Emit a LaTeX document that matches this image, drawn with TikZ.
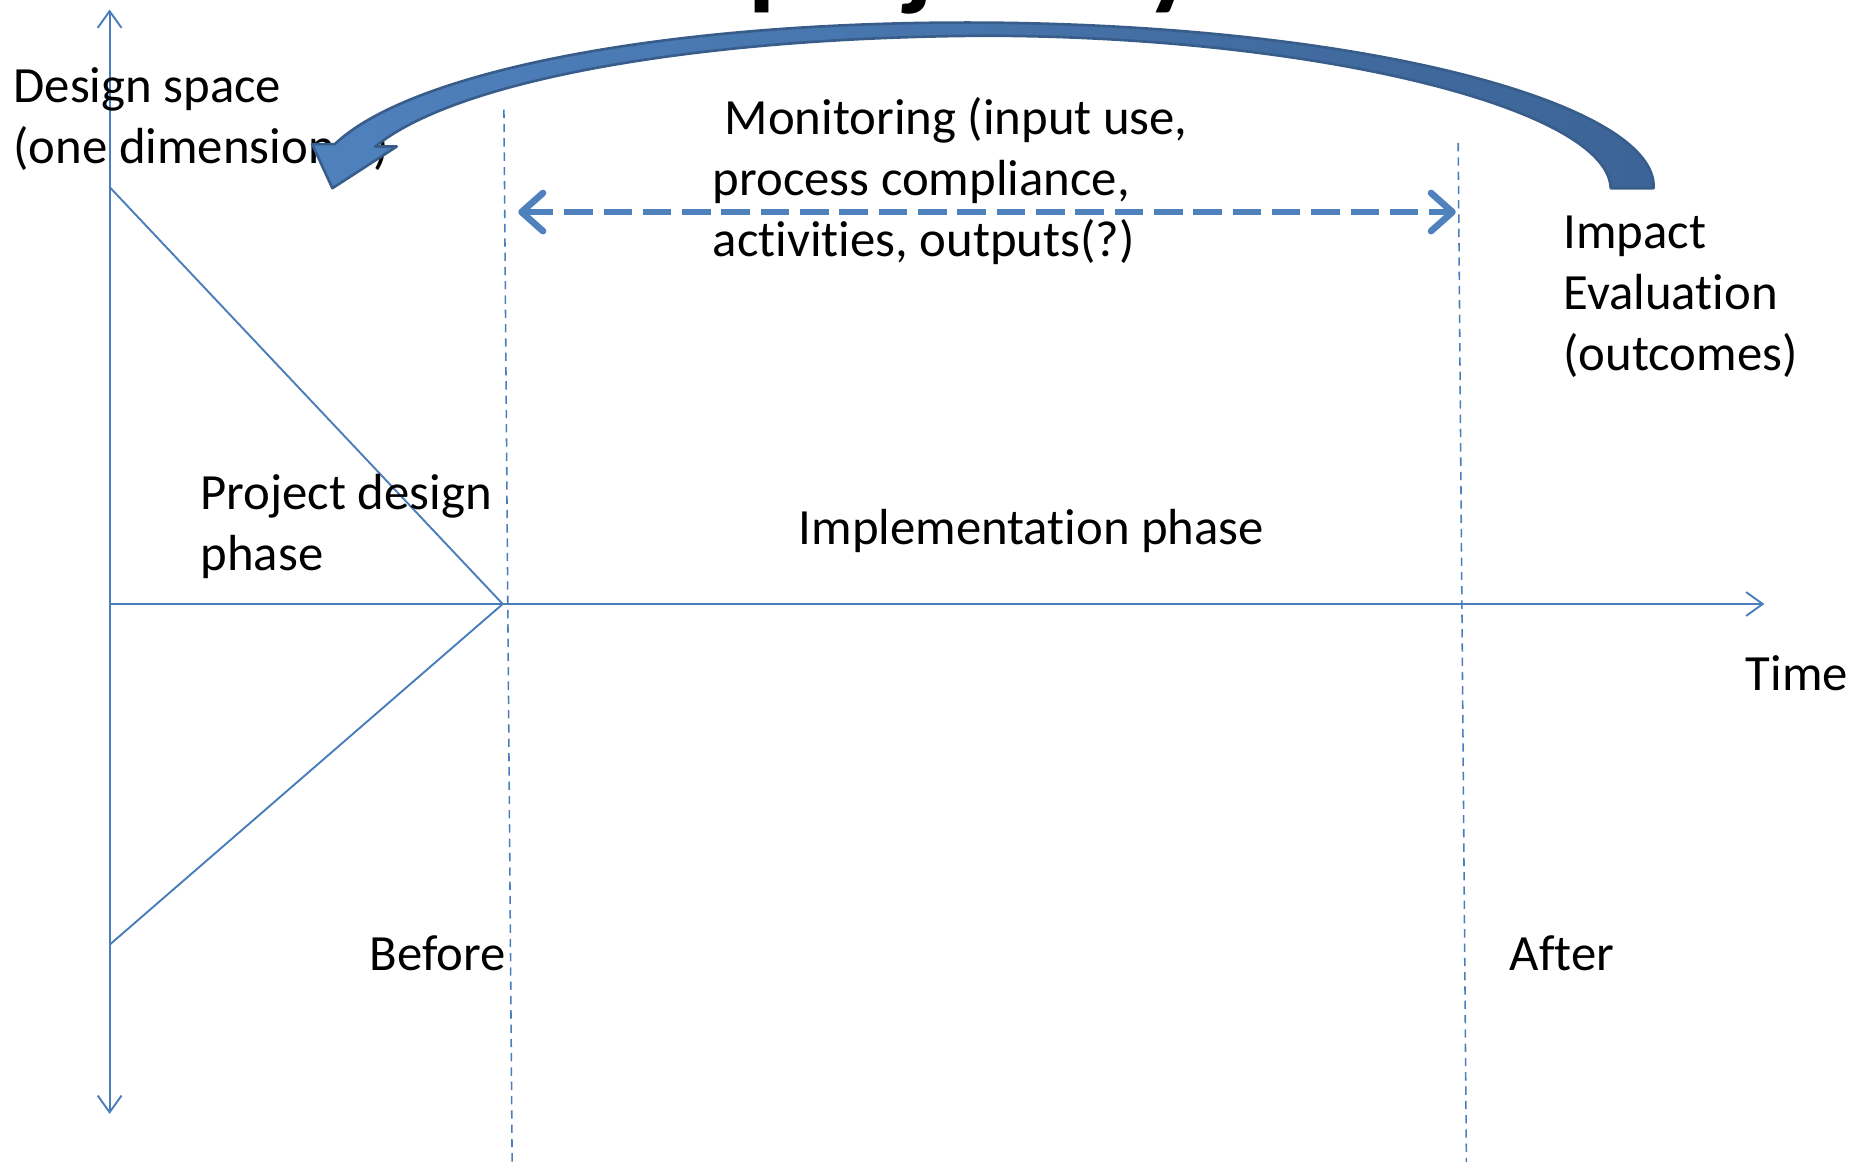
\documentclass[tikz,border=0pt]{standalone}
\usepackage{fontspec}
\setmainfont{Carlito}[Ligatures=NoCommon]
\usetikzlibrary{arrows.meta}
\definecolor{axisblue}{HTML}{4A7EBB}
\definecolor{accent}{HTML}{4F81BD}
\definecolor{accentdark}{HTML}{3C6496}
\definecolor{edgeblue}{HTML}{385D8A}

\begin{document}
\begin{tikzpicture}[x=0.5pt,y=-0.5pt,
  axis/.style={draw=axisblue, line width=0.8pt},
  guide/.style={draw=axisblue, line width=0.65pt, dash pattern=on 3.5pt off 2.5pt},
  axistip/.style={-{Straight Barb[length=7pt,width=10pt]}},
  monitor/.style={draw=accent, line width=2.8pt, dash pattern=on 12pt off 4.5pt,
    {Straight Barb[length=9pt,width=16pt,round]}-{Straight Barb[length=9pt,width=16pt,round]}},
  label/.style={anchor=base west, inner sep=0pt, font=\fontsize{21.3}{25.6}\selectfont},
  title/.style={anchor=base west, inner sep=0pt, font=\fontsize{46.5}{55}\selectfont\bfseries}]

\useasboundingbox (0,0) rectangle (1568,975);
\clip (0,0) rectangle (1568,975);

% heading, mostly above the page edge
\node[title] (heading) at (628,-3.5) {project cycle};

% axes
\coordinate (ytop) at (92,8);
\coordinate (ybot) at (92,935);
\coordinate (origin) at (92,507);
\coordinate (tend) at (1481,507);
\coordinate (apex) at (422,507);
\coordinate (upper) at (92,157);
\coordinate (lower) at (92,793);

\draw[axis, {Straight Barb[length=7pt,width=10pt]}-{Straight Barb[length=7pt,width=10pt]}] (ybot) -- (ytop);
\draw[axis, axistip] (origin) -- (tend);
\draw[axis] (upper) -- (apex) -- (lower);

% phase boundaries
\coordinate (b1top) at (423,92);
\coordinate (b1bot) at (430,990);
\coordinate (b2top) at (1224,120);
\coordinate (b2bot) at (1231,990);
\draw[guide] (b1top) -- (b1bot);
\draw[guide] (b2top) -- (b2bot);

% labels
\node[label] (ds1) at (11,86) {Design space};
\node[label] (ds2) at (11,137) {(one dimension\hspace{0.77em})};
\node[label] (mo1) at (608,113) {Monitoring (input use,};
\node[label] (mo2) at (598,164) {process compliance,};
\node[label] (mo3) at (598,215) {activities, outputs(?)};
\node[label] (ie1) at (1312,209) {Impact};
\node[label] (ie2) at (1312,260) {Evaluation};
\node[label] (ie3) at (1312,311) {(outcomes)};
\node[label] (pd1) at (168,428) {Project design};
\node[label] (pd2) at (168,479) {phase};
\node[label] (impl) at (670,457) {Implementation phase};
\node[label] (time) at (1465,580) {Time};
\node[label] (before) at (310,815) {Before};
\node[label] (after) at (1267,815) {After};

% monitoring span
\coordinate (monL) at (435,178);
\coordinate (monR) at (1222,178);
\draw[monitor] (monL) -- (monR);

% feedback arrow from evaluation back to design
\path[draw=edgeblue, line width=1.1pt, line join=round,
      left color=accent, middle color=accentdark, right color=accentdark]
  (1388,158) .. controls (1392,90) and (1160,22) .. (830,19)
  .. controls (560,17) and (345,60) .. (281,121)
  -- (262,121) -- (279,158) -- (333,123) -- (315,123)
  .. controls (385,66) and (590,31) .. (830,30)
  .. controls (1110,31) and (1350,92) .. (1352,158)
  -- cycle;
\end{tikzpicture}
\end{document}
